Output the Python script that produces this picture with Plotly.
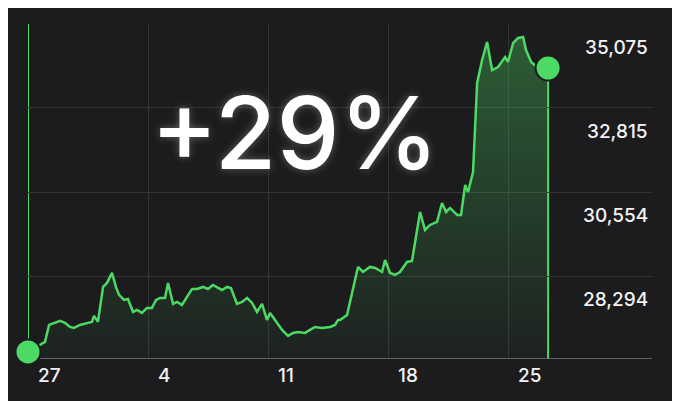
import plotly.graph_objects as go

PX = [28,43,45,49,55,60,65,70,74,80,88,92,94,98,103,107,112,116,119,124,128,133,137,142,147,152,156,160,165,168,173,177,182,187,192,197,203,208,213,218,222,227,231,237,242,247,252,257,262,267,270,275,282,288,293,298,305,310,315,322,330,335,338,340,347,358,363,370,375,382,385,390,395,400,407,412,420,425,430,437,442,446,450,457,461,465,468,473,477,482,487,492,498,505,508,513,518,523,526,531,537,548]
PY = [352,343,342,325,323,321,323,327,328,325,323,322,316,322,287,283,273,287,295,300,299,312,310,313,308,308,300,298,298,283,304,302,305,297,289,289,287,289,285,288,290,287,288,304,302,298,303,312,304,320,313,320,330,336,333,332,333,330,327,328,327,325,320,320,315,267,272,267,268,272,260,273,275,272,262,261,212,230,225,222,203,212,208,215,215,185,192,172,83,60,42,70,67,57,62,43,38,37,50,62,67,68]
days = [round((p - 28) / 17.14, 2) for p in PX]
values = [round(35075 - (p - 47) * 26.9) for p in PY]

y_labels = ["35,075", "32,815", "30,554", "28,294"]
y_label_vals = [35075, 32815, 30554, 28294]
x_labels = ["27", "4", "11", "18", "25"]
x_label_vals = [0, 7, 14, 21, 28]

YMIN, YMAX = 26680, 35694
XMAX = 36.4
GREEN = "#4cd964"

fig = go.Figure()
fig.add_trace(go.Scatter(x=days, y=[YMIN]*len(days), mode="lines",
                         line=dict(width=0), hoverinfo="skip", showlegend=False))
fig.add_trace(go.Scatter(x=days, y=values, mode="lines", fill="tonexty",
                         line=dict(color=GREEN, width=2.5),
                         fillgradient=dict(type="vertical",
                                           colorscale=[[0, "rgba(76,217,100,0.03)"], [1, "rgba(76,217,100,0.35)"]],
                                           start=YMIN, stop=YMAX),
                         showlegend=False))
fig.add_shape(type="line", x0=0, x1=0, y0=values[0], y1=YMAX, line=dict(color=GREEN, width=2), layer="below")
fig.add_shape(type="line", x0=days[-1], x1=days[-1], y0=YMIN, y1=values[-1], line=dict(color=GREEN, width=2), layer="below")
fig.add_shape(type="line", x0=0.7, x1=XMAX, y0=YMIN, y1=YMIN, line=dict(color="#77777a", width=1.5))
fig.add_trace(go.Scatter(x=[days[0], days[-1]], y=[values[0], values[-1]], mode="markers",
                         marker=dict(color=GREEN, size=25, line=dict(color="#1c1c1e", width=2)),
                         showlegend=False, cliponaxis=False))

for lab, v in zip(y_labels, y_label_vals):
    fig.add_annotation(x=1, xref="paper", xanchor="right", xshift=-2, y=v, text=lab, showarrow=False,
                       font=dict(color="#f2f2f2", size=19, family="Inter", weight=500))
for lab, v in zip(x_labels, x_label_vals):
    fig.add_annotation(x=v + 0.45, xanchor="left", y=0, yref="paper", yanchor="top", yshift=-3, text=lab,
                       showarrow=False, font=dict(color="#f2f2f2", size=19, family="Inter", weight=500))
fig.add_annotation(x=0.428, xref="paper", y=1 - (133 - 24) / 335, yref="paper", text="+29%", showarrow=False,
                   xanchor="center", yanchor="middle",
                   font=dict(color="white", size=100, family="Inter", weight=500,
                             shadow="0 0 8px rgba(255,255,255,0.3)"))

fig.update_layout(
    width=672, height=393, margin=dict(l=20, r=28, t=16, b=42),
    paper_bgcolor="#1c1c1e", plot_bgcolor="#1c1c1e",
    xaxis=dict(range=[0, XMAX], tickvals=x_label_vals, showticklabels=False, showgrid=True,
               gridcolor="#333336", gridwidth=1, zeroline=False, showline=False),
    yaxis=dict(range=[YMIN, YMAX], tickvals=[v + 619 for v in y_label_vals], showticklabels=False,
               showgrid=True, gridcolor="#333336", zeroline=False),
)
fig.write_html("out.html")
